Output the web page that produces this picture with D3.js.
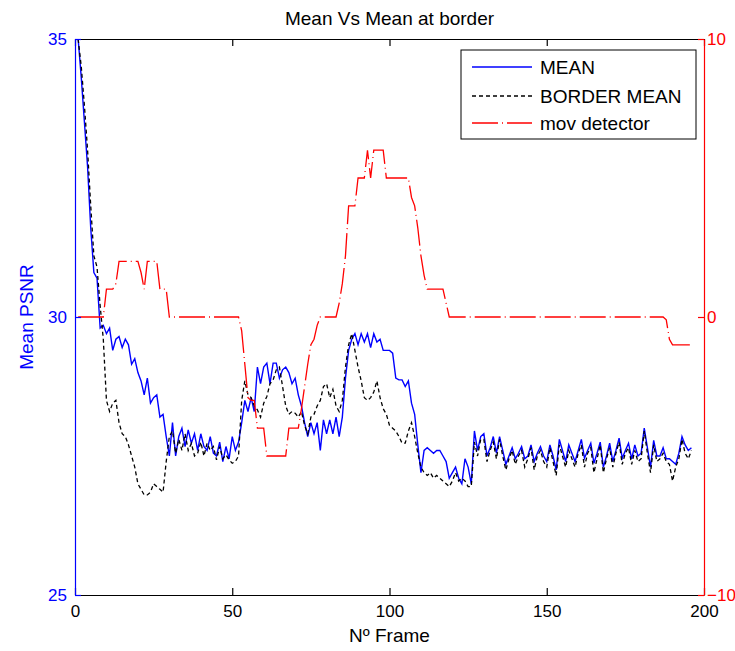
<!DOCTYPE html>
<html>
<head>
<meta charset="utf-8">
<script src="https://cdn.jsdelivr.net/npm/d3@7"></script>
<style>
  body { margin: 0; background: #fff; }
  text { font-family: "Liberation Sans", Arial, sans-serif; }
</style>
</head>
<body>
<div id="chart"></div>
<script>
// ===== Data (frame n = index + 1) =====
const meanPsnr = [
  35.0, 34.3, 33.5, 32.7, 31.6, 30.8, 30.7, 29.8, 29.85, 29.7,
  29.8, 29.4, 29.6, 29.65, 29.45, 29.6, 29.5, 29.15, 29.25, 29.0,
  28.85, 28.6, 28.9, 28.45, 28.55, 28.6, 28.2, 28.25, 27.85, 27.5,
  28.1, 27.5, 27.85, 28.0, 27.67, 27.97, 27.73, 27.9, 27.6, 27.9,
  27.67, 27.6, 27.85, 27.55, 27.5, 27.75, 27.4, 27.67, 27.45, 27.85,
  27.6, 27.75, 28.1, 28.5, 28.3, 28.55, 28.3, 29.1, 28.8, 29.1,
  29.17, 28.8, 29.17, 29.17, 28.9, 29.05, 29.1, 29.0, 28.8, 28.9,
  28.6, 28.4, 28.1, 27.85, 28.1, 27.9, 28.1, 27.6, 28.15, 27.9,
  28.15, 27.9, 28.2, 27.85, 28.2, 28.9, 29.4, 29.6, 29.7, 29.5,
  29.7, 29.55, 29.7, 29.45, 29.7, 29.55, 29.6, 29.4, 29.4, 29.4,
  29.35, 28.9, 28.87, 28.87, 28.75, 28.85, 28.45, 28.25, 27.7, 27.2,
  27.6, 27.65, 27.6, 27.55, 27.6, 27.6, 27.5, 27.4, 27.1, 27.2,
  27.3, 27.1, 27.0, 27.45, 27.3, 27.0, 27.95, 27.6, 27.85, 27.9,
  27.5, 27.65, 27.85, 27.55, 27.85, 27.6, 27.35, 27.5, 27.65, 27.45,
  27.55, 27.67, 27.45, 27.5, 27.7, 27.4, 27.55, 27.67, 27.5, 27.4,
  27.7, 27.5, 27.25, 27.8, 27.6, 27.4, 27.7, 27.55, 27.4, 27.6,
  27.8, 27.46, 27.6, 27.73, 27.37, 27.55, 27.75, 27.3, 27.5, 27.73,
  27.4, 27.6, 27.82, 27.46, 27.6, 27.73, 27.45, 27.7, 27.5, 27.55,
  28.0, 27.65, 27.3, 27.78, 27.5, 27.5, 27.65, 27.45, 27.45, 27.4,
  27.35, 27.55, 27.85, 27.7, 27.6, 27.65
];

const borderMean = [
  35.0, 34.5, 33.8, 33.0, 32.0, 31.1, 30.9, 30.2, 29.6, 28.5,
  28.3, 28.45, 28.5, 28.1, 27.9, 27.85, 27.7, 27.5, 27.3, 27.0,
  26.9, 26.8, 26.8, 26.85, 27.0, 26.95, 26.9, 26.85, 27.4, 27.85,
  27.95, 27.55, 27.8, 27.6, 27.9, 27.6, 27.73, 27.5, 27.55, 27.75,
  27.5, 27.73, 27.6, 27.67, 27.43, 27.67, 27.45, 27.52, 27.43, 27.37,
  27.4, 27.5, 28.5, 28.85, 28.6, 28.55, 28.4, 28.33, 28.2, 28.45,
  28.57, 28.8, 28.87, 29.05, 29.1, 28.75, 28.4, 28.25, 28.3, 28.27,
  28.2, 28.3, 28.05, 27.9, 28.2, 28.25, 28.4, 28.5, 28.75, 28.8,
  28.55, 28.7, 28.4, 28.3, 28.5, 29.1, 29.5, 29.7, 29.4, 29.1,
  28.85, 28.55, 28.5, 28.55, 28.65, 28.85, 28.55, 28.35, 28.25, 28.05,
  28.0, 27.95, 27.85, 27.73, 27.73, 27.95, 28.1, 27.85, 27.55, 27.3,
  27.2, 27.15, 27.2, 27.1, 27.15, 27.1, 27.05, 27.0, 26.95, 27.05,
  27.2, 27.05, 27.1, 27.05, 26.95, 26.95, 27.75, 27.5, 27.8, 27.8,
  27.4, 27.6, 27.75, 27.45, 27.8, 27.5, 27.25, 27.45, 27.6, 27.35,
  27.5, 27.6, 27.3, 27.45, 27.65, 27.25, 27.5, 27.6, 27.4, 27.3,
  27.65, 27.4, 27.15, 27.7, 27.5, 27.3, 27.6, 27.45, 27.3, 27.55,
  27.7, 27.3, 27.55, 27.65, 27.2, 27.45, 27.7, 27.2, 27.45, 27.65,
  27.3, 27.55, 27.75, 27.35, 27.55, 27.65, 27.35, 27.6, 27.4, 27.45,
  27.95, 27.55, 27.2, 27.7, 27.4, 27.45, 27.55, 27.4, 27.35, 27.05,
  27.3, 27.45, 27.8, 27.55, 27.45, 27.6
];

const movDetector = [
  0, 0, 0, 0, 0, 0, 0, 0, 0, 1,
  1, 1, 1.2, 2, 2, 2, 2, 2, 2, 2,
  1.6, 1, 2, 2, 2, 2, 1, 1, 1, 0,
  0, 0, 0, 0, 0, 0, 0, 0, 0, 0,
  0, 0, 0, 0, 0, 0, 0, 0, 0, 0,
  0, 0, -0.5, -1.7, -2.9, -3, -3, -4, -4, -4,
  -5, -5, -5, -5, -5, -5, -5, -4, -4, -4,
  -4, -3.3, -2.5, -1.7, -1, -0.8, -0.3, 0, 0, 0,
  0, 0, 0, 0.5, 1.2, 2.2, 4, 4, 4, 5,
  5, 5, 6, 5, 6, 6, 6, 6, 5, 5,
  5, 5, 5, 5, 5, 5, 4.3, 4, 3.2, 2.2,
  1.5, 1, 1, 1, 1, 1, 1, 0.5, 0, 0,
  0, 0, 0, 0, 0, 0, 0, 0, 0, 0,
  0, 0, 0, 0, 0, 0, 0, 0, 0, 0,
  0, 0, 0, 0, 0, 0, 0, 0, 0, 0,
  0, 0, 0, 0, 0, 0, 0, 0, 0, 0,
  0, 0, 0, 0, 0, 0, 0, 0, 0, 0,
  0, 0, 0, 0, 0, 0, 0, 0, 0, 0,
  0, 0, 0, 0, 0, 0, 0, -0.1, -0.8, -1,
  -1, -1, -1, -1, -1, -1
];

const xTicks = [0, 50, 100, 150, 200];
const leftTicks = [25, 30, 35];
const rightTicks = [-10, 0, 10];
const legendLabels = ["MEAN", "BORDER MEAN", "mov detector"];

// ===== Layout =====
const W = 735, H = 651;
const plot = {left: 75, right: 704, top: 39, bottom: 595};

const svg = d3.select("#chart").append("svg")
    .attr("width", W)
    .attr("height", H);

const x = d3.scaleLinear().domain([0, 200]).range([plot.left, plot.right]);
const yL = d3.scaleLinear().domain([25, 35]).range([plot.bottom, plot.top]);
const yR = d3.scaleLinear().domain([-10, 10]).range([plot.bottom, plot.top]);

const BLUE = "#0000ff", RED = "#ff0000";
const DASH_BORDER = "4,3";
const DASH_MOV = "26,4,1,4";

// ===== Lines =====
const lineL = d3.line().x((d, i) => x(i + 1)).y(d => yL(d));
const lineR = d3.line().x((d, i) => x(i + 1)).y(d => yR(d));

svg.append("path").datum(meanPsnr)
    .attr("d", lineL)
    .attr("fill", "none").attr("stroke", BLUE).attr("stroke-width", 1.4);

svg.append("path").datum(borderMean)
    .attr("d", lineL)
    .attr("fill", "none").attr("stroke", "#000").attr("stroke-width", 1.3)
    .attr("stroke-dasharray", DASH_BORDER);

svg.append("path").datum(movDetector)
    .attr("d", lineR)
    .attr("fill", "none").attr("stroke", RED).attr("stroke-width", 1.3)
    .attr("stroke-dasharray", DASH_MOV);

// ===== Axes =====
function styleAxis(g, color, size) {
    g.attr("font-family", null).attr("font-size", null);
    g.select(".domain").attr("stroke", color).attr("stroke-width", 1.2);
    g.selectAll(".tick line").attr("stroke", color).attr("stroke-width", 1.2);
    g.selectAll(".tick text").attr("fill", color).style("font-size", size + "px");
}

svg.append("g")
    .attr("transform", `translate(0,${plot.bottom})`)
    .call(d3.axisBottom(x).tickValues(xTicks).tickSizeInner(-7).tickSizeOuter(0).tickPadding(10))
    .call(g => styleAxis(g, "#000", 17));

svg.append("g")
    .attr("transform", `translate(0,${plot.top})`)
    .call(d3.axisTop(x).tickValues(xTicks).tickSizeInner(-7).tickSizeOuter(0).tickFormat(""))
    .call(g => styleAxis(g, "#000", 17));

svg.append("g")
    .attr("transform", `translate(${plot.left},0)`)
    .call(d3.axisLeft(yL).tickValues(leftTicks).tickSizeInner(-6).tickSizeOuter(0).tickPadding(8))
    .call(g => styleAxis(g, BLUE, 17));

svg.append("g")
    .attr("transform", `translate(${plot.right},0)`)
    .call(d3.axisRight(yR).tickValues(rightTicks).tickSizeInner(-6).tickSizeOuter(0).tickPadding(3))
    .call(g => styleAxis(g, RED, 17));

// ===== Titles =====
svg.append("text")
    .attr("x", (plot.left + plot.right) / 2).attr("y", 25)
    .attr("text-anchor", "middle")
    .style("font-size", "19px")
    .text("Mean Vs Mean at border");

svg.append("text")
    .attr("x", (plot.left + plot.right) / 2).attr("y", 642)
    .attr("text-anchor", "middle")
    .style("font-size", "19px")
    .text("Nº Frame");

svg.append("text")
    .attr("transform", `translate(33,${(plot.top + plot.bottom) / 2}) rotate(-90)`)
    .attr("text-anchor", "middle")
    .attr("fill", BLUE)
    .style("font-size", "19px")
    .text("Mean PSNR");

// ===== Legend =====
const legend = svg.append("g");
legend.append("rect")
    .attr("x", 461).attr("y", 50).attr("width", 235).attr("height", 89)
    .attr("fill", "#fff").attr("stroke", "#000").attr("stroke-width", 1);

const legendStyles = [
    {color: BLUE, dash: null, width: 1.4},
    {color: "#000", dash: DASH_BORDER, width: 1.3},
    {color: RED, dash: DASH_MOV, width: 1.3}
];
const legendY = [67, 96, 123];

legendLabels.forEach((label, i) => {
    legend.append("line")
        .attr("x1", 472).attr("x2", 532)
        .attr("y1", legendY[i]).attr("y2", legendY[i])
        .attr("stroke", legendStyles[i].color)
        .attr("stroke-width", legendStyles[i].width)
        .attr("stroke-dasharray", legendStyles[i].dash);
    legend.append("text")
        .attr("x", 540).attr("y", legendY[i] + 7)
        .style("font-size", "19px")
        .text(label);
});
</script>
</body>
</html>
